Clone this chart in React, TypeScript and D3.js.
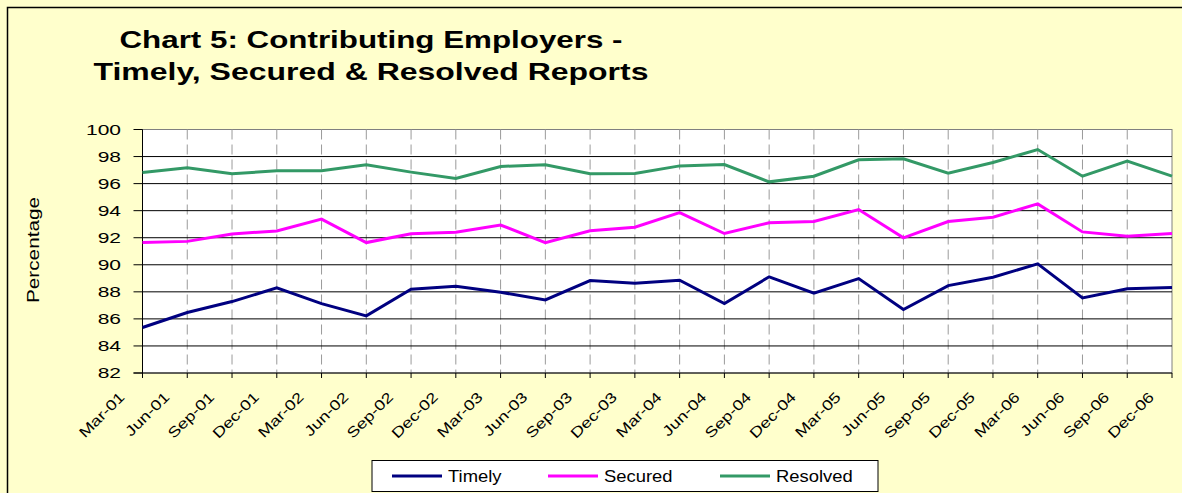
import React, { useEffect, useRef } from "react";
import * as d3 from "d3";

const quarters = [
  "Mar-01", "Jun-01", "Sep-01", "Dec-01",
  "Mar-02", "Jun-02", "Sep-02", "Dec-02",
  "Mar-03", "Jun-03", "Sep-03", "Dec-03",
  "Mar-04", "Jun-04", "Sep-04", "Dec-04",
  "Mar-05", "Jun-05", "Sep-05", "Dec-05",
  "Mar-06", "Jun-06", "Sep-06", "Dec-06",
];

const timely = [
  85.36, 86.47, 87.28, 88.29, 87.13, 86.22, 88.19, 88.41, 87.97, 87.4, 88.83, 88.64,
  88.86, 87.13, 89.11, 87.9, 88.98, 86.69, 88.46, 89.08, 90.07, 87.55, 88.22, 88.32,
];

const secured = [
  91.64, 91.73, 92.28, 92.5, 93.38, 91.64, 92.3, 92.4, 92.94, 91.64, 92.52, 92.78,
  93.86, 92.31, 93.1, 93.2, 94.08, 91.99, 93.2, 93.52, 94.5, 92.43, 92.11, 92.31,
];

const resolved = [
  96.83, 97.17, 96.73, 96.95, 96.95, 97.39, 96.85, 96.38, 97.27, 97.39, 96.73, 96.75,
  97.31, 97.41, 96.13, 96.55, 97.76, 97.83, 96.77, 97.56, 98.52, 96.55, 97.66, 96.55,
];

const yTicks = [82, 84, 86, 88, 90, 92, 94, 96, 98, 100];

const series = [
  { name: "Timely", values: timely, color: "#000080" },
  { name: "Secured", values: secured, color: "#FF00FF" },
  { name: "Resolved", values: resolved, color: "#339966" },
];

const W = 1182;
const H = 493;
const FONT = "Arial, 'Liberation Sans', sans-serif";

export default function App() {
  const ref = useRef<SVGSVGElement>(null);

  useEffect(() => {
    if (!ref.current) return;
    const svg = d3.select(ref.current);
    svg.selectAll("*").remove();

    const left = 142.5;
    const right = 1172;
    const top = 129.5;
    const bottom = 373;

    const x = d3.scalePoint<string>().domain(quarters).range([left, right]);
    const y = d3.scaleLinear().domain([82, 100]).range([bottom, top]);

    // chart area
    svg.append("rect").attr("width", W).attr("height", H).attr("fill", "#FFFFCC");
    svg
      .append("path")
      .attr("d", `M7.5,${H} V7.5 H${W}`)
      .attr("fill", "none")
      .attr("stroke", "#000")
      .attr("stroke-width", 1.5);

    // title
    const title = svg
      .append("g")
      .attr("font-family", FONT)
      .attr("font-weight", "bold")
      .attr("font-size", 24)
      .attr("text-anchor", "middle");
    title
      .append("text")
      .attr("x", 371)
      .attr("y", 48)
      .attr("textLength", 503)
      .attr("lengthAdjust", "spacingAndGlyphs")
      .text("Chart 5: Contributing Employers -");
    title
      .append("text")
      .attr("x", 371)
      .attr("y", 80)
      .attr("textLength", 555)
      .attr("lengthAdjust", "spacingAndGlyphs")
      .text("Timely, Secured & Resolved Reports");

    // plot area
    svg
      .append("rect")
      .attr("x", left)
      .attr("y", top)
      .attr("width", right - left)
      .attr("height", bottom - top)
      .attr("fill", "#fff")
      .attr("stroke", "#808080");

    // vertical gridlines (dashed)
    svg
      .append("g")
      .selectAll("line")
      .data(quarters.slice(1, -1))
      .join("line")
      .attr("x1", (d) => x(d)!)
      .attr("x2", (d) => x(d)!)
      .attr("y1", top)
      .attr("y2", bottom)
      .attr("stroke", "#9a9a9a")
      .attr("stroke-dasharray", "10,5");

    // horizontal gridlines
    svg
      .append("g")
      .selectAll("line")
      .data(yTicks.filter((t) => t > 82 && t < 100))
      .join("line")
      .attr("x1", left)
      .attr("x2", right)
      .attr("y1", (d) => y(d))
      .attr("y2", (d) => y(d))
      .attr("stroke", "#000")
      .attr("stroke-width", 1);

    // axes
    svg
      .append("line")
      .attr("x1", left)
      .attr("x2", left)
      .attr("y1", top)
      .attr("y2", bottom + 5)
      .attr("stroke", "#000");
    svg
      .append("line")
      .attr("x1", left - 9)
      .attr("x2", right)
      .attr("y1", bottom)
      .attr("y2", bottom)
      .attr("stroke", "#000");

    // y ticks + labels
    const yAxis = svg.append("g").attr("font-family", FONT).attr("font-size", 15);
    yAxis
      .selectAll("line")
      .data(yTicks)
      .join("line")
      .attr("x1", left - 9)
      .attr("x2", left)
      .attr("y1", (d) => y(d))
      .attr("y2", (d) => y(d))
      .attr("stroke", "#000");
    yAxis
      .selectAll("text")
      .data(yTicks)
      .join("text")
      .attr("transform", (d) => `translate(121,${y(d) + 5.3}) scale(1.4,1)`)
      .attr("text-anchor", "end")
      .attr("fill", "#000")
      .text((d) => d);

    // x ticks + labels
    const xAxis = svg.append("g").attr("font-family", FONT).attr("font-size", 14.5);
    xAxis
      .selectAll("line")
      .data(quarters)
      .join("line")
      .attr("x1", (d) => x(d)!)
      .attr("x2", (d) => x(d)!)
      .attr("y1", bottom)
      .attr("y2", bottom + 5)
      .attr("stroke", "#000");
    xAxis
      .selectAll("text")
      .data(quarters)
      .join("text")
      .attr("transform", (d) => `translate(${x(d)! - 17},${bottom + 25}) rotate(-45) scale(1.25,1)`)
      .attr("text-anchor", "end")
      .attr("fill", "#000")
      .text((d) => d);

    // y axis title
    svg
      .append("text")
      .attr("transform", "translate(39,250) rotate(-90)")
      .attr("text-anchor", "middle")
      .attr("font-family", FONT)
      .attr("font-size", 17)
      .attr("textLength", 106)
      .attr("lengthAdjust", "spacingAndGlyphs")
      .text("Percentage");

    // lines
    const line = d3
      .line<number>()
      .x((_, i) => x(quarters[i])!)
      .y((d) => y(d));
    svg
      .append("g")
      .selectAll("path")
      .data(series)
      .join("path")
      .attr("d", (s) => line(s.values))
      .attr("fill", "none")
      .attr("stroke", (s) => s.color)
      .attr("stroke-width", 3)
      .attr("stroke-linejoin", "miter");

    // legend
    const legend = svg.append("g").attr("font-family", FONT).attr("font-size", 16);
    legend
      .append("rect")
      .attr("x", 372)
      .attr("y", 460.5)
      .attr("width", 506)
      .attr("height", 31)
      .attr("fill", "#fff")
      .attr("stroke", "#000");
    const legendX = [392, 548, 720];
    series.forEach((s, i) => {
      legend
        .append("line")
        .attr("x1", legendX[i])
        .attr("x2", legendX[i] + 50)
        .attr("y1", 476)
        .attr("y2", 476)
        .attr("stroke", s.color)
        .attr("stroke-width", 3);
      legend
        .append("text")
        .attr("transform", `translate(${legendX[i] + 56},482) scale(1.15,1)`)
        .attr("fill", "#000")
        .text(s.name);
    });
  }, []);

  return (
    <svg
      ref={ref}
      width={W}
      height={H}
      style={{ position: "absolute", left: 0, top: 0, display: "block" }}
    />
  );
}
